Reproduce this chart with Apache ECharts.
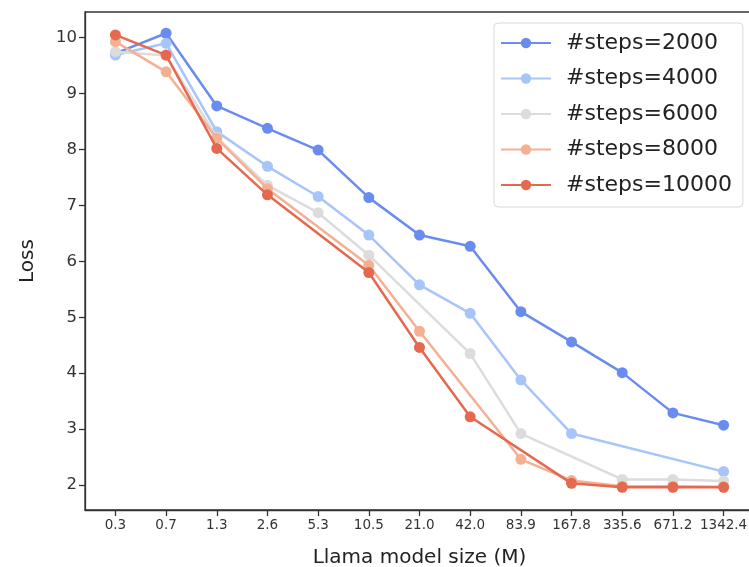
<!DOCTYPE html>
<html>
<head>
<meta charset="utf-8">
<script src="https://cdn.jsdelivr.net/npm/echarts@6/dist/echarts.min.js"></script>
<style>html,body{margin:0;padding:0;background:#fff}#c{width:749px;height:567px}</style>
</head>
<body>
<div id="c"></div>
<script>
const xLabels = ['0.3','0.7','1.3','2.6','5.3','10.5','21.0','42.0','83.9','167.8','335.6','671.2','1342.4'];
const yTicks = [2,3,4,5,6,7,8,9,10];
const seriesNames = ['#steps=2000','#steps=4000','#steps=6000','#steps=8000','#steps=10000'];
const steps2000  = [9.72, 10.08, 8.78, 8.38, 7.99, 7.14, 6.47, 6.27, 5.10, 4.56, 4.01, 3.29, 3.07];
const steps4000  = [9.69, 9.90, 8.32, 7.70, 7.16, 6.47, 5.58, 5.07, 3.88, 2.92, null, null, 2.24];
const steps6000  = [9.75, 9.68, 8.22, 7.36, 6.87, 6.11, null, 4.35, 2.92, null, 2.10, 2.10, 2.07];
const steps8000  = [9.93, 9.39, 8.20, 7.30, null, 5.93, 4.75, null, 2.46, 2.08, 1.98, 1.98, 1.97];
const steps10000 = [10.05, 9.69, 8.02, 7.19, null, 5.80, 4.46, 3.22, null, 2.03, 1.96, 1.96, 1.96];
const colors = ['#6a8cef', '#a7c5fb', '#dcdcdc', '#f4b093', '#e4694f'];

const allSeries = [steps2000, steps4000, steps6000, steps8000, steps10000];
const chart = echarts.init(document.getElementById('c'), null, {renderer: 'canvas'});
const font = 'DejaVu Sans';
chart.setOption({
  animation: false,
  backgroundColor: '#fff',
  color: colors,
  grid: {left: 85, top: 12, width: 669, height: 498, outerBoundsMode: 'none', containLabel: false, show: true, borderColor: '#333', borderWidth: 1.3, backgroundColor: 'transparent'},
  xAxis: {
    type: 'value', min: -0.6, max: 12.6,
    name: 'Llama model size (M)', nameLocation: 'middle', nameGap: 38,
    nameTextStyle: {fontFamily: font, fontSize: 20, color: '#222'},
    axisLine: {show: true, onZero: false, lineStyle: {color: '#333', width: 1.3}},
    axisTick: {show: true, customValues: xLabels.map((_, i) => i), length: 6, lineStyle: {color: '#333', width: 1.3}},
    axisLabel: {customValues: xLabels.map((_, i) => i), formatter: v => xLabels[Math.round(v)], fontFamily: font, fontSize: 13.5, color: '#333', margin: 8},
    splitLine: {show: false}
  },
  yAxis: {
    type: 'value', min: 1.553, max: 10.46,
    name: 'Loss', nameLocation: 'middle', nameGap: 47, nameRotate: 90,
    nameTextStyle: {fontFamily: font, fontSize: 20, color: '#222'},
    axisLine: {show: true, onZero: false, lineStyle: {color: '#333', width: 1.3}},
    axisTick: {show: true, customValues: yTicks, length: 6, lineStyle: {color: '#333', width: 1.3}},
    axisLabel: {customValues: yTicks, fontFamily: font, fontSize: 16.5, color: '#333', margin: 8},
    splitLine: {show: false}
  },
  legend: {
    orient: 'vertical', left: 494, top: 23,
    data: seriesNames,
    itemWidth: 50, itemHeight: 13, itemGap: 13.5,
    padding: [9, 11, 11, 6],
    borderColor: '#d8d8d8', borderWidth: 1, borderRadius: 4, backgroundColor: '#fff',
    textStyle: {fontFamily: font, fontSize: 22, color: '#222', padding: [0, 0, 0, 10]}
  },
  series: allSeries.map((arr, k) => ({
    name: seriesNames[k], type: 'line',
    data: arr.map((v, i) => [i, v]).filter(p => p[1] !== null),
    symbol: 'circle', symbolSize: 11,
    lineStyle: {width: 2.5, color: colors[k]},
    itemStyle: {color: colors[k]},
    z: 2 + k
  }))
});
</script>
</body>
</html>
